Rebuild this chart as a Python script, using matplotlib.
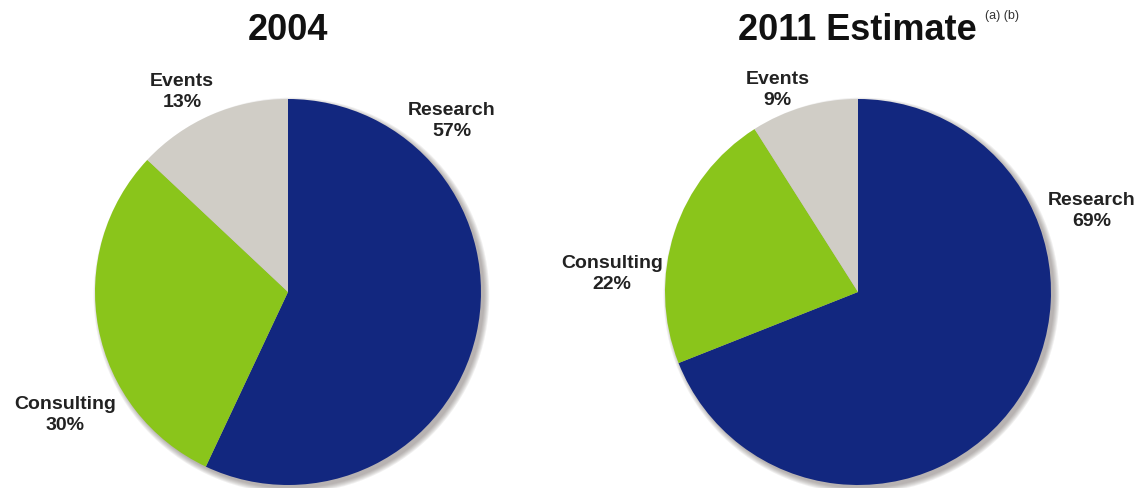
import matplotlib
matplotlib.use("Agg")
import matplotlib.pyplot as plt
from matplotlib.patches import Circle

plt.rcParams['font.family'] = ['Liberation Sans', 'DejaVu Sans']

# Revenue mix by segment
segments = ["Research", "Consulting", "Events"]
share_2004 = [57, 30, 13]
share_2011 = [69, 22, 9]
titles = ["2004", "2011 Estimate"]
colors = ["#12277F", "#8AC51B", "#D0CDC6"]

# label anchor offsets (in pie radii) for each segment
label_pos_2004 = {"Research": (0.85, 0.89), "Consulting": (-1.155, -0.63), "Events": (-0.55, 1.04)}
label_pos_2011 = {"Research": (1.21, 0.425), "Consulting": (-1.275, 0.10), "Events": (-0.415, 1.05)}

W, H = 1148, 489
fig = plt.figure(figsize=(W / 100, H / 100), dpi=100)
fig.patch.set_facecolor("white")

R_PX = 193
LIM = 1.45


def make_axes(cx, cy):
    half = R_PX * LIM
    ax = fig.add_axes([(cx - half) / W, (H - cy - half) / H, 2 * half / W, 2 * half / H])
    ax.set_xlim(-LIM, LIM)
    ax.set_ylim(-LIM, LIM)
    ax.set_aspect("equal")
    ax.axis("off")
    return ax


def draw_pie(ax, values, label_pos):
    # soft drop shadow toward the lower right
    for i in range(6):
        ax.add_patch(Circle((0.018, -0.018), 0.995 + 0.005 * (6 - i), color="#5e5850",
                            alpha=0.09, lw=0, zorder=0))
    ax.pie(values, colors=colors, startangle=90, counterclock=False,
           wedgeprops=dict(linewidth=0), radius=1.0, center=(0, 0), frame=True)
    ax.set_xlim(-LIM, LIM)
    ax.set_ylim(-LIM, LIM)
    ax.axis("off")
    for name, v in zip(segments, values):
        x, y = label_pos[name]
        ax.text(x, y, f"{name}\n{v}%", ha="center", va="center", fontsize=14,
                fontweight="bold", color="#222222", linespacing=1.3)


ax1 = make_axes(288, 293)
draw_pie(ax1, share_2004, label_pos_2004)
ax2 = make_axes(858, 293)
draw_pie(ax2, share_2011, label_pos_2011)

fig.text(288 / W, 1 - 30 / H, titles[0], ha="center", va="center", fontsize=26,
         fontweight="bold", color="#111111")
fig.text(857 / W, 1 - 30 / H, titles[1], ha="center", va="center", fontsize=26,
         fontweight="bold", color="#111111")
fig.text(985 / W, 1 - 16 / H, "(a) (b)", ha="left", va="center", fontsize=9,
         color="#333333")

fig.savefig("out.png", dpi=100, facecolor="white")
